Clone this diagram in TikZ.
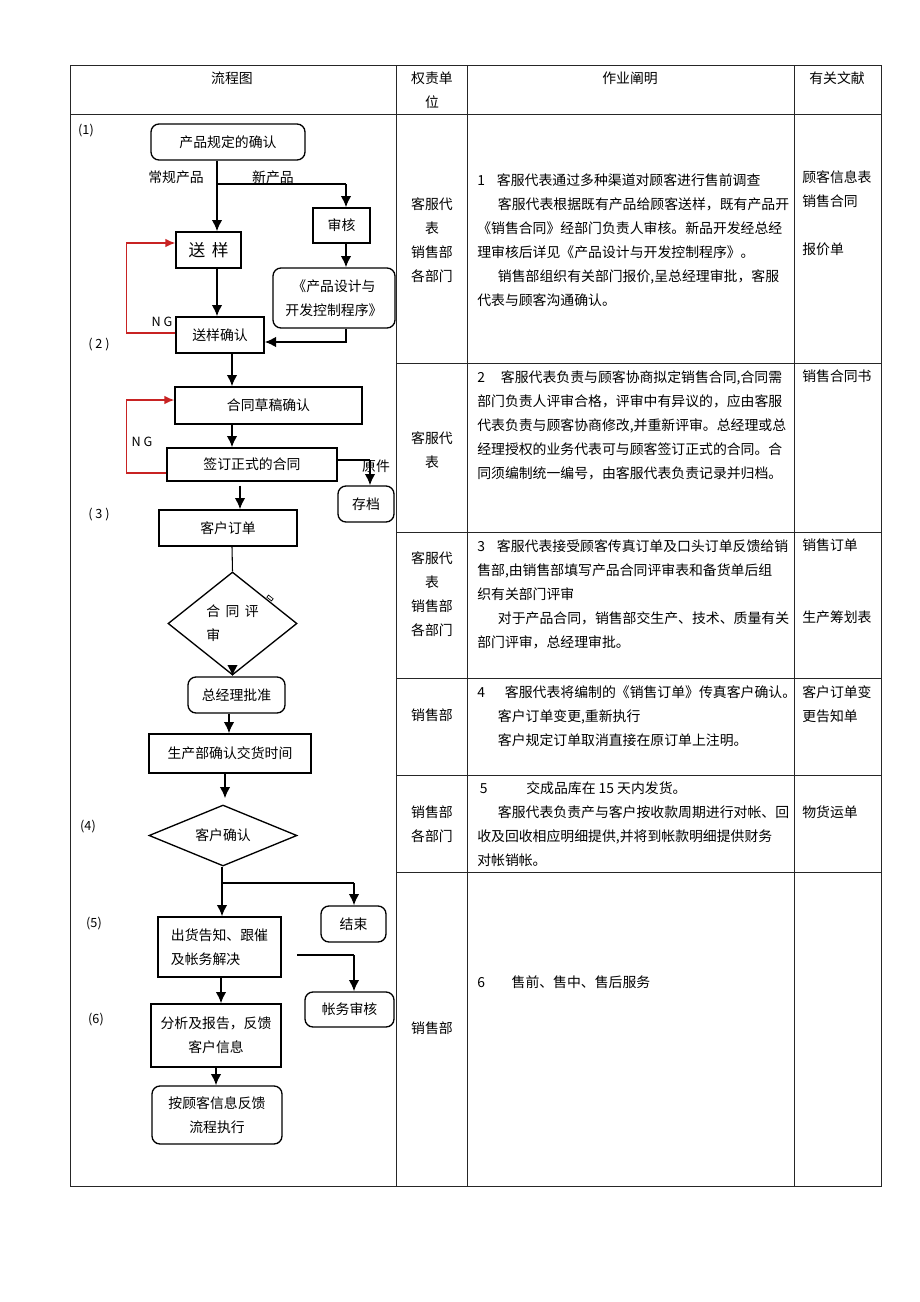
\documentclass[tikz,border=0pt]{standalone}
\usepackage{fontspec}
\setmainfont{Noto Sans CJK SC}
\usepackage{tikz}
\usetikzlibrary{arrows.meta, shapes.geometric}
\usepackage{xcolor}
\definecolor{ngred}{RGB}{200,35,35}

\begin{document}
\begin{tikzpicture}[
    x=0.75pt, y=-0.75pt,
    font=\fontsize{10.4}{18}\selectfont,
    block/.style={rectangle, draw, line width=1pt, inner sep=0pt, align=center},
    rblock/.style={block, rounded corners=6pt},
    decision/.style={diamond, draw, line width=1pt, inner sep=0pt, align=center},
    link/.style={line width=1.5pt, -{Latex[length=8.5pt, width=8pt]}},
    nglink/.style={line width=1.1pt, ngred, -{Latex[length=7.5pt, width=6.5pt]}},
    thinline/.style={line width=0.8pt},
    tableline/.style={line width=0.75pt, black!85},
    txt/.style={inner sep=0pt, align=left, anchor=north west},
    unitcell/.style={inner sep=0pt, align=center, anchor=north},
    lbl/.style={inner sep=0pt, font=\fontsize{9.5}{12}\selectfont}
]
\path[fill=white] (0,0) rectangle (920,1302);

% Table frame
\draw[tableline] (70,66) rectangle (881,1186);
\foreach \x in {396, 467, 794}
    \draw[tableline] (\x,66) -- (\x,1186);
\draw[tableline] (70,115) -- (881,115);
\foreach \y in {363, 532, 678, 775, 872}
    \draw[tableline] (396,\y) -- (881,\y);

% Header
\node (hflow) at (232,78) {流程图};
\node[unitcell] (hunit) at (432,72) {权责单\\位};
\node (hduty) at (630,78) {作业阐明};
\node (hdoc) at (837,78) {有关文献};

% Flowchart steps
\node[rblock, minimum width=115.5pt, minimum height=27pt] (spec) at (228,142) {产品规定的确认};
\node[block, minimum width=42.75pt, minimum height=26.25pt] (check) at (341.5,225.5) {审核};
\node[rblock, minimum width=91.5pt, minimum height=45pt] (proc) at (334,298) {《产品设计与\\开发控制程序》};
\node[block, minimum width=48.75pt, minimum height=27pt, font=\fontsize{12.5}{15}\selectfont] (sample) at (208.5,250) {送\hspace{5pt}样};
\node[block, minimum width=66pt, minimum height=27pt] (sampleok) at (220,335) {送样确认};
\node[block, minimum width=140.25pt, minimum height=27.75pt] (draft) at (268.5,405.5) {合同草稿确认};
\node[block, minimum width=127.5pt, minimum height=24.75pt] (sign) at (252,464.5) {签订正式的合同};
\node[rblock, minimum width=42pt, minimum height=27pt] (archive) at (366,504) {存档};
\node[block, minimum width=103.5pt, minimum height=27pt] (order) at (228,528) {客户订单};
\node[decision, aspect=1.25, minimum width=96.75pt, minimum height=77.25pt, align=left] (review) at (232.5,623.5) {合\hspace{4pt}同\hspace{4pt}评\\审};
\node[draw, line width=0.5pt, minimum width=4.5pt, minimum height=2pt, inner sep=0pt, rotate=-38] (tick) at (270,598) {};
\node[rblock, minimum width=72.75pt, minimum height=27pt] (approve) at (236.5,695) {总经理批准};
\node[block, minimum width=121.5pt, minimum height=29.25pt] (prod) at (230,753.5) {生产部确认交货时间};
\node[decision, aspect=2.4, minimum width=111pt, minimum height=45.75pt] (confirm) at (223,835.5) {客户确认};
\node[rblock, minimum width=48.75pt, minimum height=27pt] (finish) at (353.5,924) {结束};
\node[block, minimum width=92.25pt, minimum height=45pt, align=left] (ship) at (219.5,947) {出货告知、跟催\\及帐务解决};
\node[rblock, minimum width=66.75pt, minimum height=26.25pt] (audit) at (349.5,1009.5) {帐务审核};
\node[block, minimum width=97.5pt, minimum height=47.25pt] (report) at (216,1035.5) {分析及报告，反馈\\客户信息};
\node[rblock, minimum width=97.5pt, minimum height=43.5pt] (feedback) at (217,1115) {按顾客信息反馈\\流程执行};

% Step numbers and branch labels
\node[lbl] (s1) at (86,131) {(1)};
\node[lbl] (s2) at (99,345) {( 2 )};
\node[lbl] (s3) at (99,515) {( 3 )};
\node[lbl] (s4) at (88,827) {(4)};
\node[lbl] (s5) at (94,924) {(5)};
\node[lbl] (s6) at (96,1020) {(6)};
\node (regular) at (176,177) {常规产品};
\node (newprod) at (273,177) {新产品};
\node[lbl] (ng1) at (162,322) {N\hspace{2pt}G};
\node[lbl] (ng2) at (142,442) {N\hspace{2pt}G};
\node (orig) at (376,466) {原件};

% Turning points
\coordinate (split1) at (217,184);
\coordinate (turn1) at (346,184);
\coordinate (turn2) at (370,460);
\coordinate (split2) at (222,883);
\coordinate (turn3) at (354,883);
\coordinate (tail4) at (297,955);
\coordinate (turn4) at (354,955);

% Connections
\draw[link] (217,0 |- spec.south) -- (217,0 |- sample.north);
\draw[thinline] (split1) -- (turn1);
\draw[link] (turn1) -- (turn1 |- check.north);
\draw[link] (346,0 |- check.south) -- (346,0 |- proc.north);
\draw[link] (217,0 |- sample.south) -- (217,0 |- sampleok.north);
\draw[link] (346,0 |- proc.south) |- (sampleok.east |- 0,342);
\draw[nglink] (sampleok.west |- 0,333) -- ++(-49,0) |- (sample.west |- 0,243);
\draw[link] (232,0 |- sampleok.south) -- (232,0 |- draft.north);
\draw[link] (232,0 |- draft.south) -- (232,0 |- sign.north);
\draw[nglink] (sign.west |- 0,473) -- ++(-40,0) |- (draft.west |- 0,400);
\draw[thinline] (sign.east |- turn2) -- (turn2);
\draw[link] (turn2) -- (turn2 |- archive.north);
\draw[link, shorten <=3pt] (240,0 |- sign.south) -- (240,0 |- order.north);
\draw[thinline] (232,0 |- order.south) -- (review.north);
\draw[link] ([yshift=8pt]review.south) -- (review.south |- approve.north);
\draw[link] (229,0 |- approve.south) -- (229,0 |- prod.north);
\draw[link, shorten >=4.5pt] (225,0 |- prod.south) -- (225,0 |- confirm.north);
\draw[link] (222,0 |- confirm.south) -- (222,0 |- ship.north);
\draw[thinline] (split2) -- (turn3);
\draw[link] (turn3) -- (turn3 |- finish.north);
\draw[thinline] (tail4) -- (turn4);
\draw[link] (turn4) -- (turn4 |- audit.north);
\draw[link] (221,0 |- ship.south) -- (221,0 |- report.north);
\draw[link] (216,0 |- report.south) -- (216,0 |- feedback.north);

% Responsible units
\node[unitcell] (unit1) at (432,197) {客服代\\表\\销售部\\各部门};
\node[unitcell] (unit2) at (432,431) {客服代\\表};
\node[unitcell] (unit3) at (432,551) {客服代\\表\\销售部\\各部门};
\node[unitcell] (unit4) at (432,709) {销售部};
\node[unitcell] (unit5) at (432,806) {销售部\\各部门};
\node[unitcell] (unit6) at (432,1022) {销售部};

% Work description
\node[txt] (duty1) at (477,173) {1\hspace{9pt}客服代表通过多种渠道对顾客进行售前调查\\
\hspace*{15.5pt}客服代表根据既有产品给顾客送样，既有产品开\\
《销售合同》经部门负责人审核。新品开发经总经\\
理审核后详见《产品设计与开发控制程序》。\\
\hspace*{15.5pt}销售部组织有关部门报价,呈总经理审批，客服\\
代表与顾客沟通确认。};
\node[txt] (duty2) at (477,370) {2\hspace{12pt}客服代表负责与顾客协商拟定销售合同,合同需\\
部门负责人评审合格，评审中有异议的，应由客服\\
代表负责与顾客协商修改,并重新评审。总经理或总\\
经理授权的业务代表可与顾客签订正式的合同。合\\
同须编制统一编号，由客服代表负责记录并归档。};
\node[txt] (duty3) at (477,539) {3\hspace{9pt}客服代表接受顾客传真订单及口头订单反馈给销\\
售部,由销售部填写产品合同评审表和备货单后组\\
织有关部门评审\\
\hspace*{15.5pt}对于产品合同，销售部交生产、技术、质量有关\\
部门评审，总经理审批。};
\node[txt] (duty4) at (477,685) {4\hspace{15pt}客服代表将编制的《销售订单》传真客户确认。\\
\hspace*{15.5pt}客户订单变更,重新执行\\
\hspace*{15.5pt}客户规定订单取消直接在原订单上注明。};
\node[txt] (duty5) at (477,781) {\hspace*{2pt}5\hspace{29pt}交成品库在 15 天内发货。\\
\hspace*{15.5pt}客服代表负责产与客户按收款周期进行对帐、回\\
收及回收相应明细提供,并将到帐款明细提供财务\\
对帐销帐。};
\node[txt] (duty6) at (477,976) {6\hspace{20pt}售前、售中、售后服务};

% Related documents
\node[txt] (doc1) at (802,170) {顾客信息表\\销售合同\\[18pt]报价单};
\node[txt] (doc2) at (802,370) {销售合同书};
\node[txt] (doc3a) at (802,539) {销售订单};
\node[txt] (doc3b) at (802,611) {生产筹划表};
\node[txt] (doc4) at (802,685) {客户订单变\\更告知单};
\node[txt] (doc5) at (802,806) {物货运单};

\end{tikzpicture}
\end{document}
